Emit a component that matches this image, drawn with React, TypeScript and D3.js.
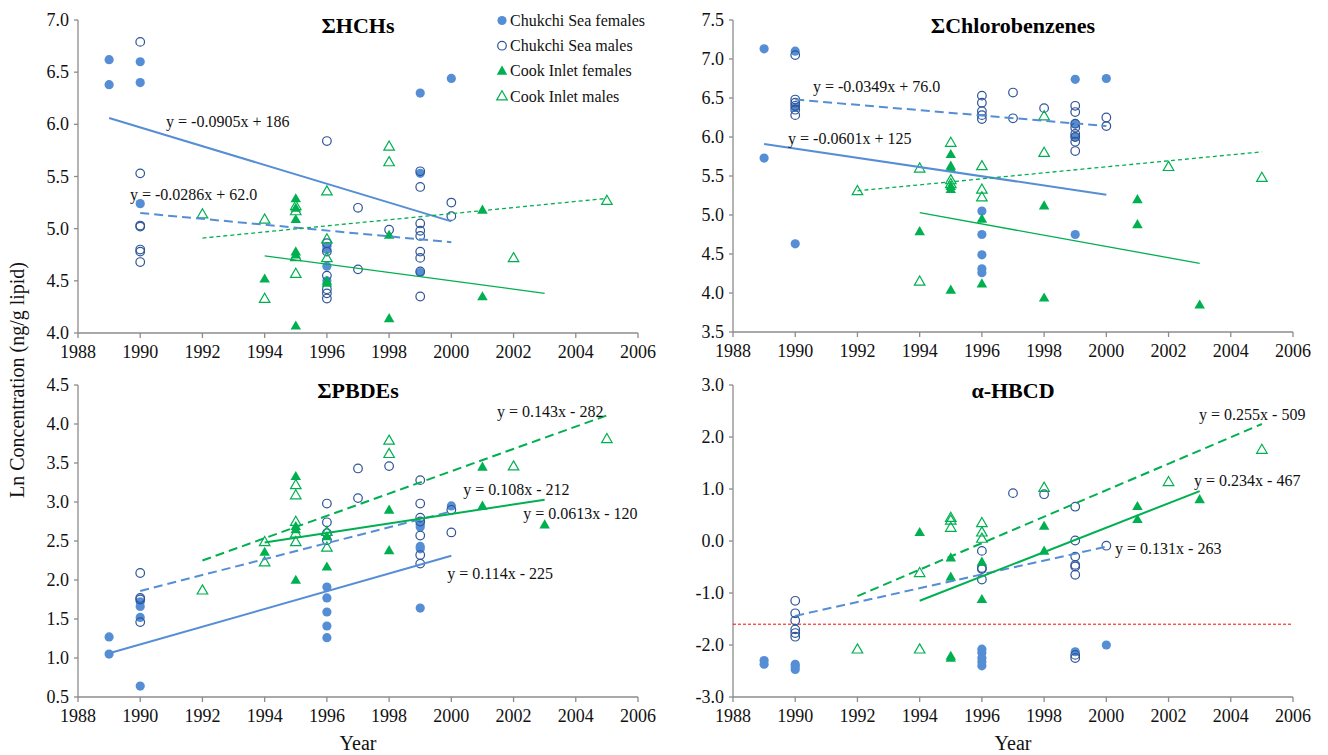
import React from "react";
import * as d3 from "d3";

type Pt = [number, number];

// ---------- DATA ----------
const yearTicks = [1988, 1990, 1992, 1994, 1996, 1998, 2000, 2002, 2004, 2006];
const seriesNames = ["Chukchi Sea females", "Chukchi Sea males", "Cook Inlet females", "Cook Inlet males"];
const panelTitles = ["ΣHCHs", "ΣChlorobenzenes", "ΣPBDEs", "α-HBCD"];
const yDomains: [number, number][] = [[4.0, 7.0], [3.5, 7.5], [0.5, 4.5], [-3.0, 3.0]];
const yTickSteps = [0.5, 0.5, 0.5, 1.0];

// ΣHCHs
const hchCSF: Pt[] = [[1989, 6.62], [1989, 6.38], [1990, 6.60], [1990, 6.40], [1990, 5.24], [1996, 4.83], [1996, 4.80], [1996, 4.64], [1996, 4.50], [1999, 6.30], [1999, 5.53], [1999, 4.58], [2000, 6.44]];
const hchCSM: Pt[] = [[1990, 6.79], [1990, 5.53], [1990, 5.03], [1990, 5.02], [1990, 4.80], [1990, 4.78], [1990, 4.68], [1996, 5.84], [1996, 4.86], [1996, 4.78], [1996, 4.55], [1996, 4.42], [1996, 4.38], [1996, 4.33], [1997, 5.20], [1997, 4.61], [1998, 4.99], [1999, 5.55], [1999, 5.40], [1999, 5.05], [1999, 4.98], [1999, 4.93], [1999, 4.78], [1999, 4.72], [1999, 4.59], [1999, 4.35], [2000, 5.25], [2000, 5.12]];
const hchCIF: Pt[] = [[1994, 4.52], [1995, 5.29], [1995, 5.20], [1995, 5.09], [1995, 4.78], [1995, 4.75], [1995, 4.07], [1996, 4.50], [1996, 4.48], [1998, 4.94], [1998, 4.14], [2001, 5.18], [2001, 4.35]];
const hchCIM: Pt[] = [[1992, 5.14], [1994, 5.09], [1994, 4.33], [1995, 5.22], [1995, 5.17], [1995, 4.73], [1995, 4.57], [1996, 5.36], [1996, 4.90], [1996, 4.72], [1998, 5.79], [1998, 5.64], [2002, 4.72], [2005, 5.27]];

// ΣChlorobenzenes
const cbCSF: Pt[] = [[1989, 7.13], [1989, 5.73], [1990, 7.10], [1990, 6.38], [1990, 4.63], [1996, 5.05], [1996, 4.75], [1996, 4.49], [1996, 4.31], [1996, 4.26], [1999, 6.74], [1999, 6.17], [1999, 6.00], [1999, 4.75], [2000, 6.75]];
const cbCSM: Pt[] = [[1990, 7.05], [1990, 6.48], [1990, 6.44], [1990, 6.40], [1990, 6.35], [1990, 6.28], [1996, 6.53], [1996, 6.44], [1996, 6.33], [1996, 6.28], [1996, 6.23], [1997, 6.57], [1997, 6.24], [1998, 6.37], [1999, 6.40], [1999, 6.32], [1999, 6.17], [1999, 6.12], [1999, 6.04], [1999, 6.00], [1999, 5.94], [1999, 5.82], [2000, 6.25], [2000, 6.14]];
const cbCIF: Pt[] = [[1994, 4.79], [1995, 5.78], [1995, 5.63], [1995, 5.60], [1995, 5.37], [1995, 5.33], [1995, 4.04], [1996, 4.95], [1996, 4.12], [1998, 5.12], [1998, 3.94], [2001, 5.20], [2001, 4.88], [2003, 3.85]];
const cbCIM: Pt[] = [[1992, 5.31], [1994, 5.60], [1994, 4.15], [1995, 5.93], [1995, 5.45], [1995, 5.40], [1996, 5.63], [1996, 5.33], [1996, 5.23], [1998, 6.27], [1998, 5.80], [2002, 5.62], [2005, 5.48]];

// ΣPBDEs
const pbCSF: Pt[] = [[1989, 1.27], [1989, 1.05], [1990, 1.72], [1990, 1.66], [1990, 1.52], [1990, 0.64], [1996, 1.91], [1996, 1.77], [1996, 1.59], [1996, 1.41], [1996, 1.26], [1999, 2.71], [1999, 2.68], [1999, 2.43], [1999, 2.40], [1999, 1.64], [2000, 2.95]];
const pbCSM: Pt[] = [[1990, 2.09], [1990, 1.77], [1990, 1.75], [1990, 1.46], [1996, 2.98], [1996, 2.74], [1996, 2.60], [1996, 2.51], [1997, 3.43], [1997, 3.05], [1998, 3.46], [1999, 3.28], [1999, 2.98], [1999, 2.80], [1999, 2.75], [1999, 2.57], [1999, 2.32], [1999, 2.21], [2000, 2.90], [2000, 2.61]];
const pbCIF: Pt[] = [[1994, 2.36], [1995, 3.33], [1995, 2.69], [1995, 2.65], [1995, 2.00], [1996, 2.56], [1996, 2.17], [1998, 2.90], [1998, 2.38], [2001, 3.45], [2001, 2.95], [2003, 2.71]];
const pbCIM: Pt[] = [[1992, 1.87], [1994, 2.49], [1994, 2.23], [1995, 3.22], [1995, 3.09], [1995, 2.75], [1995, 2.60], [1995, 2.49], [1996, 2.62], [1996, 2.42], [1998, 3.79], [1998, 3.62], [2002, 3.46], [2005, 3.81]];

// α-HBCD
const hbCSF: Pt[] = [[1989, -2.30], [1989, -2.37], [1990, -2.37], [1990, -2.42], [1990, -2.47], [1996, -2.08], [1996, -2.15], [1996, -2.25], [1996, -2.32], [1996, -2.40], [1999, -2.13], [2000, -2.00]];
const hbCSM: Pt[] = [[1990, -1.15], [1990, -1.39], [1990, -1.53], [1990, -1.70], [1990, -1.77], [1990, -1.84], [1996, -0.19], [1996, -0.52], [1996, -0.54], [1996, -0.74], [1997, 0.92], [1998, 0.90], [1999, 0.66], [1999, 0.01], [1999, -0.30], [1999, -0.46], [1999, -0.49], [1999, -0.65], [1999, -2.19], [1999, -2.25], [2000, -0.09]];
const hbCIF: Pt[] = [[1994, 0.17], [1995, -0.32], [1995, -0.69], [1995, -2.21], [1995, -2.25], [1996, -0.40], [1996, -1.12], [1998, 0.29], [1998, -0.19], [2001, 0.67], [2001, 0.42], [2003, 0.80]];
const hbCIM: Pt[] = [[1992, -2.08], [1994, -0.61], [1994, -2.08], [1995, 0.45], [1995, 0.40], [1995, 0.26], [1996, 0.35], [1996, 0.17], [1996, 0.05], [1998, 1.03], [2002, 1.14], [2005, 1.76]];
const hbThreshold = -1.6;

// Trend lines: [series index, x1, y1, x2, y2]
const hchTrends: number[][] = [[0, 1989, 6.06, 2000, 5.07], [1, 1990, 5.15, 2000, 4.87], [2, 1994, 4.74, 2003, 4.38], [3, 1992, 4.91, 2005, 5.29]];
const cbTrends: number[][] = [[0, 1989, 5.91, 2000, 5.26], [1, 1990, 6.48, 2000, 6.14], [2, 1994, 5.03, 2003, 4.38], [3, 1992, 5.31, 2005, 5.81]];
const pbTrends: number[][] = [[0, 1989, 1.06, 2000, 2.31], [1, 1990, 1.86, 2000, 2.88], [2, 1994, 2.48, 2003, 3.03], [3, 1992, 2.25, 2005, 4.11]];
const hbTrends: number[][] = [[1, 1990, -1.44, 2000, -0.11], [2, 1994, -1.15, 2003, 0.96], [3, 1992, -1.06, 2005, 2.25]];

// Equation labels: [text, year, value]
const hchEqs: [string, number, number][] = [["y = -0.0905x + 186", 1990.83, 5.97], ["y = -0.0286x + 62.0", 1989.67, 5.27]];
const cbEqs: [string, number, number][] = [["y = -0.0349x + 76.0", 1990.57, 6.58], ["y = -0.0601x + 125", 1989.77, 5.91]];
const pbEqs: [string, number, number][] = [["y = 0.143x - 282", 2001.47, 4.09], ["y = 0.108x - 212", 2000.38, 3.09], ["y = 0.0613x - 120", 2002.31, 2.78], ["y = 0.114x - 225", 1999.87, 2.01]];
const hbEqs: [string, number, number][] = [["y = 0.255x - 509", 2002.98, 2.33], ["y = 0.234x - 467", 2002.82, 1.06], ["y = 0.131x - 263", 2000.28, -0.25]];

// ---------- STYLE ----------
const BLUE = "#558ED5";
const DARKBLUE = "#2F5597";
const GREEN = "#00B050";
const AXIS = "#8c8c8c";
const FONT = "'Liberation Serif', 'Times New Roman', serif";

interface Panel {
  x0: number; x1: number; yb: number; yt: number;
  series: Pt[][]; trends: number[][]; eqs: [string, number, number][];
  thin: boolean; threshold?: number;
}

const panels: Panel[] = [
  { x0: 78, x1: 638, yb: 333, yt: 20, series: [hchCSF, hchCSM, hchCIF, hchCIM], trends: hchTrends, eqs: hchEqs, thin: true },
  { x0: 733, x1: 1293, yb: 332, yt: 20, series: [cbCSF, cbCSM, cbCIF, cbCIM], trends: cbTrends, eqs: cbEqs, thin: true },
  { x0: 78, x1: 638, yb: 697, yt: 385, series: [pbCSF, pbCSM, pbCIF, pbCIM], trends: pbTrends, eqs: pbEqs, thin: false },
  { x0: 733, x1: 1293, yb: 697, yt: 385, series: [hbCSF, hbCSM, hbCIF, hbCIM], trends: hbTrends, eqs: hbEqs, thin: false, threshold: hbThreshold },
];

const triPath = d3.symbol().type(d3.symbolTriangle).size(48)() as string;

function Marker({ kind, x, y }: { kind: number; x: number; y: number }) {
  if (kind === 0) return <circle cx={x} cy={y} r={4.6} fill={BLUE} />;
  if (kind === 1) return <circle cx={x} cy={y} r={4.3} fill="none" stroke={DARKBLUE} strokeWidth={1.2} />;
  if (kind === 2) return <path d={triPath} transform={`translate(${x},${y + 0.8})`} fill={GREEN} />;
  return <path d={triPath} transform={`translate(${x},${y + 0.8})`} fill="none" stroke={GREEN} strokeWidth={1.2} />;
}

function trendStyle(kind: number, thin: boolean) {
  if (kind === 0) return { stroke: BLUE, width: 2, dash: undefined as string | undefined };
  if (kind === 1) return { stroke: BLUE, width: 2, dash: "9,5" };
  if (kind === 2) return { stroke: GREEN, width: thin ? 1.3 : 2, dash: undefined };
  return { stroke: GREEN, width: thin ? 1.3 : 2, dash: thin ? "4,3" : "9,5" };
}

function PanelView({ p, idx }: { p: Panel; idx: number }) {
  const x = d3.scaleLinear().domain([1988, 2006]).range([p.x0, p.x1]);
  const [d0, d1] = yDomains[idx];
  const y = d3.scaleLinear().domain([d0, d1]).range([p.yb, p.yt]);
  const step = yTickSteps[idx];
  const yTicks = d3.range(d0, d1 + step / 2, step);
  const cx = (p.x0 + p.x1) / 2;
  const bottom = idx >= 2;
  return (
    <g>
      {/* axes */}
      <line x1={p.x0} x2={p.x1} y1={p.yb} y2={p.yb} stroke={AXIS} strokeWidth={1.3} />
      <line x1={p.x0} x2={p.x0} y1={p.yb} y2={p.yt} stroke={AXIS} strokeWidth={1.3} />
      {yearTicks.map((t) => (
        <g key={"xt" + t}>
          <line x1={x(t)} x2={x(t)} y1={p.yb} y2={p.yb + 5} stroke={AXIS} strokeWidth={1.3} />
          <text x={x(t)} y={p.yb + 25} textAnchor="middle" fontSize={18} fontFamily={FONT} fill="#111">{t}</text>
        </g>
      ))}
      {yTicks.map((t) => (
        <g key={"yt" + t}>
          <line x1={p.x0 - 4} x2={p.x0} y1={y(t)} y2={y(t)} stroke={AXIS} strokeWidth={1.3} />
          <text x={p.x0 - 9} y={y(t) + 6} textAnchor="end" fontSize={18} fontFamily={FONT} fill="#111">{t.toFixed(1)}</text>
        </g>
      ))}
      {bottom && (
        <text x={cx} y={750} textAnchor="middle" fontSize={20} fontFamily={FONT} fill="#111">Year</text>
      )}
      <text x={cx} y={p.yt + 13} textAnchor="middle" fontSize={22} fontWeight="bold" fontFamily={FONT} fill="#000">{panelTitles[idx]}</text>
      {p.threshold !== undefined && (
        <line x1={p.x0} x2={p.x1} y1={y(p.threshold)} y2={y(p.threshold)} stroke="#FF0000" strokeWidth={1} strokeDasharray="3,2" />
      )}
      {/* points */}
      {p.series.map((s, k) => (
        <g key={"s" + k}>
          {s.map((d, i) => <Marker key={i} kind={k} x={x(d[0])} y={y(d[1])} />)}
        </g>
      ))}
      {/* trend lines */}
      {p.trends.map((t, i) => {
        const st = trendStyle(t[0], p.thin);
        return <line key={"tr" + i} x1={x(t[1])} y1={y(t[2])} x2={x(t[3])} y2={y(t[4])} stroke={st.stroke} strokeWidth={st.width} strokeDasharray={st.dash} />;
      })}
      {p.eqs.map((e, i) => (
        <text key={"eq" + i} x={x(e[1])} y={y(e[2])} fontSize={16} fontFamily={FONT} fill="#111">{e[0]}</text>
      ))}
    </g>
  );
}

export default function App() {
  return (
    <svg width={1328} height={755} style={{ position: "absolute", left: 0, top: 0, background: "#fff" }}>
      <rect width={1328} height={755} fill="#fff" />
      {panels.map((p, i) => <PanelView key={i} p={p} idx={i} />)}
      <text transform="translate(24,380) rotate(-90)" textAnchor="middle" fontSize={20} fontFamily={FONT} fill="#111">Ln Concentration (ng/g lipid)</text>
      {/* legend */}
      {seriesNames.map((n, i) => (
        <g key={"lg" + i}>
          <Marker kind={i} x={502} y={20.5 + i * 25.2} />
          <text x={510} y={26 + i * 25.2} fontSize={16} fontFamily={FONT} fill="#111">{n}</text>
        </g>
      ))}
    </svg>
  );
}
